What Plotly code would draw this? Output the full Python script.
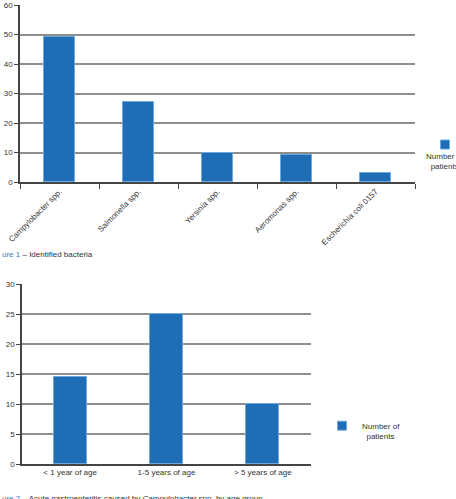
import plotly.graph_objects as go

# ---- data ----
bacteria = ["Campylobacter spp.", "Salmonella spp.", "Yersinia spp.", "Aeromonas spp.", "Escherichia coli 0157"]
bacteria_patients = [49, 27, 10, 9, 3]

age_groups = ["< 1 year of age", "1-5 years of age", "> 5 years of age"]
age_patients = [14.5, 25, 10]

series_name = "Number of patients"
caption1_label = "ure 1"
caption1_text = " – Identified bacteria"
caption2_label = "ure 2"
caption2_text = " – Acute gastroenteritis caused by <i>Campylobacter</i> spp. by age group"

W, H = 456, 499
BAR = "#1f6db5"
EDGE = "#6fa8dc"
GRID = "#8e8e8e"
AX = "#444444"
TXT = "#333333"
FONT = "Liberation Sans, Arial, sans-serif"

def px_x(p):
    return p / W

def px_y(p):
    return (H - p) / H

fig = go.Figure()

fig.add_trace(go.Bar(
    x=bacteria, y=bacteria_patients, name=series_name,
    marker=dict(color=BAR, line=dict(color=EDGE, width=1)),
    width=0.4, xaxis="x", yaxis="y", showlegend=False,
))
fig.add_trace(go.Bar(
    x=age_groups, y=age_patients, name=series_name,
    marker=dict(color=BAR, line=dict(color=EDGE, width=1)),
    width=0.34, xaxis="x2", yaxis="y2", showlegend=False,
))
# legend swatches (smaller square keys, like the original)
fig.add_trace(go.Scatter(
    x=[None], y=[None], mode="markers", name=" ",
    marker=dict(symbol="square", size=9, color=BAR, line=dict(color=EDGE, width=1)),
    xaxis="x", yaxis="y", legend="legend", showlegend=True, hoverinfo="skip",
))
fig.add_trace(go.Scatter(
    x=[None], y=[None], mode="markers", name="Number of<br>  patients",
    marker=dict(symbol="square", size=9, color=BAR, line=dict(color=EDGE, width=1)),
    xaxis="x2", yaxis="y2", legend="legend2", showlegend=True, hoverinfo="skip",
))

axis_common = dict(
    showline=True, linecolor=AX, linewidth=1.5,
    ticks="outside", tickcolor=AX, tickwidth=1,
    tickfont=dict(size=8, color=TXT, family=FONT),
    zeroline=False, automargin=False,
)

fig.update_layout(
    width=W, height=H,
    margin=dict(l=0, r=0, t=0, b=0, autoexpand=False),
    paper_bgcolor="white", plot_bgcolor="white",
    font=dict(family=FONT, size=8, color=TXT),
    bargap=0,
    xaxis=dict(domain=[px_x(20), px_x(415)], anchor="y", tickangle=-45,
               tickson="boundaries", showgrid=False, ticklen=5, **axis_common),
    yaxis=dict(domain=[px_y(182), px_y(5)], anchor="x", range=[0, 60], dtick=10,
               showgrid=True, gridcolor=GRID, gridwidth=1.5, ticklen=4, **axis_common),
    xaxis2=dict(domain=[px_x(22), px_x(311)], anchor="y2", tickangle=0,
                tickson="boundaries", showgrid=False, ticklen=0, **axis_common),
    yaxis2=dict(domain=[px_y(464), px_y(284)], anchor="x2", range=[0, 30], dtick=5,
                showgrid=True, gridcolor=GRID, gridwidth=1.5, ticklen=4, **axis_common),
    legend=dict(x=px_x(425), y=px_y(130), xanchor="left", yanchor="top",
                font=dict(size=8, color=TXT), bgcolor="rgba(0,0,0,0)", itemwidth=30),
    legend2=dict(x=px_x(322), y=px_y(414), xanchor="left", yanchor="top", valign="top",
                 font=dict(size=8, color=TXT), bgcolor="rgba(0,0,0,0)", itemwidth=30),
)

annotations = [
    dict(text="Number of<br>patients", x=px_x(444.5), y=px_y(150), xref="paper", yref="paper",
         xanchor="center", yanchor="top", showarrow=False, align="center",
         font=dict(size=8, color=TXT)),
    dict(text=f"<span style='color:#3a7cc1'>{caption1_label}</span>{caption1_text}",
         x=0, y=px_y(248), xref="paper", yref="paper", xanchor="left", yanchor="top",
         showarrow=False, font=dict(size=8, color=TXT)),
    dict(text=f"<span style='color:#3a7cc1'>{caption2_label}</span>{caption2_text}",
         x=0, y=px_y(492), xref="paper", yref="paper", xanchor="left", yanchor="top",
         showarrow=False, font=dict(size=8, color=TXT)),
]
fig.update_layout(annotations=annotations)

fig.write_html("out.html")
